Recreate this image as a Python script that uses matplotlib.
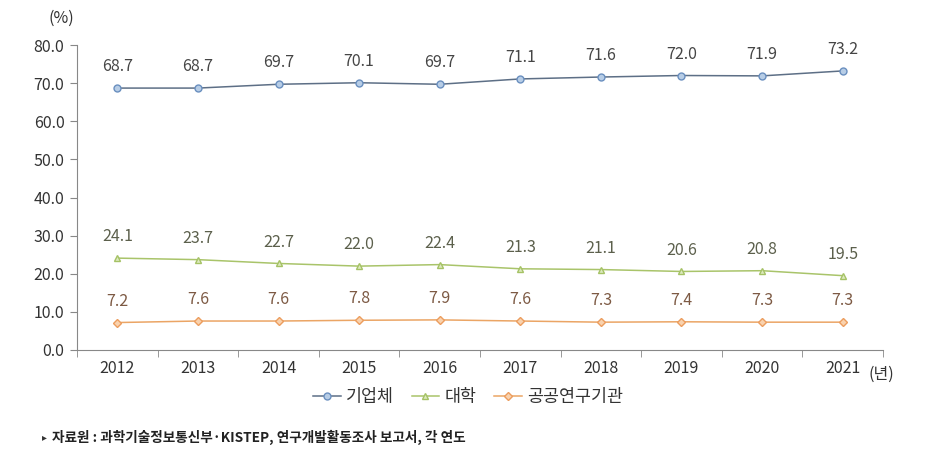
import numpy as np
import matplotlib
matplotlib.use("Agg")
import matplotlib.pyplot as plt

plt.rcParams['font.family'] = ['Noto Sans CJK KR', 'DejaVu Sans']

years = ["2012", "2013", "2014", "2015", "2016", "2017", "2018", "2019", "2020", "2021"]
company = [68.7, 68.7, 69.7, 70.1, 69.7, 71.1, 71.6, 72.0, 71.9, 73.2]
univ = [24.1, 23.7, 22.7, 22.0, 22.4, 21.3, 21.1, 20.6, 20.8, 19.5]
public = [7.2, 7.6, 7.6, 7.8, 7.9, 7.6, 7.3, 7.4, 7.3, 7.3]
names = ["기업체", "대학", "공공연구기관"]

W, H = 931, 458
fig = plt.figure(figsize=(W / 100, H / 100), dpi=100)
ax = fig.add_axes([77 / W, 1 - 350 / H, (883 - 77) / W, (350 - 45) / H])

x = np.arange(len(years))
styles = [
    (company, "#5d6f86", "o", "#b7cde6", "#6a8fbf", "#454545"),
    (univ, "#a9c46a", "^", "#dde9bf", "#a5c265", "#5c604c"),
    (public, "#eba565", "D", "#f9d2ae", "#ec9d5e", "#7d5a44"),
]
for (vals, lc, mk, mfc, mec, tc), name in zip(styles, names):
    ms = 4 if mk == "D" else 5
    ax.plot(x, vals, color=lc, lw=1.1, marker=mk, ms=ms, mfc=mfc, mec=mec,
            mew=1.0, label=name)
    for xi, v in zip(x, vals):
        ax.text(xi, v + 5.6, f"{v:.1f}", ha="center", va="center",
                fontsize=11.5, color=tc)

ax.set_xlim(-0.5, len(years) - 0.5)
ax.set_ylim(0, 80)
ax.set_yticks(np.arange(0, 81, 10))
ax.set_yticklabels([f"{v:.1f}" for v in np.arange(0, 81, 10)], fontsize=11.5,
                   color="#333333")
ax.set_xticks(x)
ax.set_xticklabels(years, fontsize=11.5, color="#333333")
ax.set_xticks(np.arange(-0.5, len(years), 1), minor=True)
ax.tick_params(axis="x", which="major", length=0, pad=7)
ax.tick_params(axis="x", which="minor", length=5, color="#888888", direction="out")
ax.tick_params(axis="y", length=5, color="#888888", pad=4)
for s in ["top", "right"]:
    ax.spines[s].set_visible(False)
for s in ["left", "bottom"]:
    ax.spines[s].set_color("#888888")

fig.text(48 / W, 1 - 18 / H, "(%)", fontsize=11.5, color="#333333",
         ha="left", va="center")
fig.text(868 / W, 1 - 374 / H, "(년)", fontsize=11.5, color="#333333",
         ha="left", va="center")

ax.legend(loc="center", bbox_to_anchor=(468 / W, 1 - 397 / H),
          bbox_transform=fig.transFigure, ncol=3, frameon=False,
          fontsize=12.5, handlelength=1.6, columnspacing=1.0, handletextpad=0.3,
          labelcolor="#333333")

fig.text(42 / W, 1 - 437 / H, "▸", fontsize=7, color="#333333",
         ha="left", va="center", family=["DejaVu Sans"])
fig.text(52 / W, 1 - 437 / H,
         "자료원 : 과학기술정보통신부·KISTEP, 연구개발활동조사 보고서, 각 연도",
         fontsize=9.8, color="#222222", ha="left", va="center", fontweight="bold")

fig.savefig("out.png", dpi=100)
